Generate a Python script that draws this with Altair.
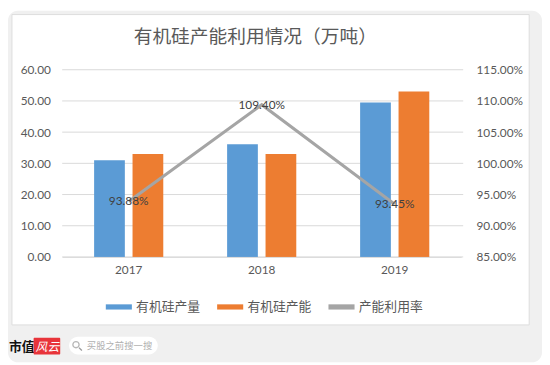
import altair as alt
import pandas as pd

years = ["2017", "2018", "2019"]
series_names = ["有机硅产量", "有机硅产能", "产能利用率"]
output = [30.98, 36.10, 49.53]
capacity = [33.0, 33.0, 53.0]
rate = [0.9388, 1.0940, 0.9345]
left_ticks = [0, 10, 20, 30, 40, 50, 60]
right_ticks = [0.85, 0.90, 0.95, 1.00, 1.05, 1.10, 1.15]
colors = ["#5B9BD5", "#ED7D31", "#A5A5A5"]
title_text = "有机硅产能利用情况（万吨）"

bars_df = pd.DataFrame({
    "year": years * 2,
    "series": [series_names[0]] * 3 + [series_names[1]] * 3,
    "value": output + capacity,
})
grid_df = pd.DataFrame({"value": left_ticks})
line_df = pd.DataFrame({"year": years, "series": [series_names[2]] * 3, "rate": rate})
one = pd.DataFrame({"k": [0]})

CJK = "Noto Sans CJK SC"
NUM = "Lato"

color = alt.Color(
    "series:N",
    scale=alt.Scale(domain=series_names, range=colors),
    legend=alt.Legend(
        title=None, orient="none", direction="horizontal", legendX=44, legendY=227,
        symbolType="M-1,-0.2H1V0.2H-1Z", symbolSize=700, symbolStrokeWidth=0,
        labelFont=CJK, labelFontSize=13, labelColor="#595959", labelOffset=4,
        columnPadding=16,
    ),
)

xenc = alt.X("year:N", title=None, sort=years,
             scale=alt.Scale(paddingInner=0.48, paddingOuter=0.24),
             axis=alt.Axis(labelAngle=0, ticks=False, domainColor="#d9d9d9", zindex=1,
                           labelFont=NUM, labelFontSize=12, labelColor="#595959",
                           labelPadding=8))

left_axis = alt.Axis(values=left_ticks, format=".2f", grid=False, zindex=1,
                     domain=False, ticks=False, labelPadding=12, labelFont=NUM,
                     labelFontSize=12, labelColor="#595959")
ly = alt.Y("value:Q", title=None, scale=alt.Scale(domain=[0, 60]), axis=left_axis)

grid = alt.Chart(grid_df).mark_rule(color="#d9d9d9", strokeWidth=1).encode(
    y=ly, x=alt.value(0), x2=alt.value(407))

bars = alt.Chart(bars_df).mark_bar().encode(
    x=xenc,
    xOffset=alt.XOffset("series:N", sort=series_names[:2],
                        scale=alt.Scale(paddingInner=0.2, paddingOuter=0)),
    y=ly,
    color=color,
)
bar_layer = alt.layer(grid, bars)

ry = alt.Y("rate:Q", title=None, scale=alt.Scale(domain=[0.85, 1.15]),
           axis=alt.Axis(orient="right", values=right_ticks, format=".2%", grid=False,
                         domain=False, ticks=False, labelPadding=15, labelFont=NUM, zindex=1,
                         labelFontSize=12, labelColor="#595959"))

line = alt.Chart(line_df).mark_line(strokeWidth=3).encode(
    x=alt.X("year:N", sort=years),
    y=ry,
    color=alt.Color("series:N", legend=None),
)
labels = alt.Chart(line_df).mark_text(font=NUM, fontSize=12, color="#404040",
                                      baseline="middle").encode(
    x=alt.X("year:N", sort=years),
    y=ry,
    text=alt.Text("rate:Q", format=".2%"),
)
line_layer = alt.layer(line, labels)

bg = alt.Chart(one).mark_rect(color="#f0f0f0", cornerRadius=10).encode(
    x=alt.value(-55), x2=alt.value(487), y=alt.value(-60), y2=alt.value(297))
card = alt.Chart(one).mark_rect(color="#ffffff", stroke="#dcdcdc", strokeWidth=1).encode(
    x=alt.value(-51), x2=alt.value(474), y=alt.value(-56), y2=alt.value(259))
title = alt.Chart(one).mark_text(text=title_text, font=CJK, fontSize=19, color="#595959",
                                 baseline="middle").encode(x=alt.value(196), y=alt.value(-33))

logo1 = alt.Chart(one).mark_text(text="市值", font=CJK, fontSize=13, fontWeight="bold",
                                 color="#111111").encode(x=alt.value(-41), y=alt.value(281))
redbox = alt.Chart(one).mark_rect(color="#e8343a", cornerRadius=1).encode(
    x=alt.value(-29), x2=alt.value(-2), y=alt.value(272), y2=alt.value(289))
logo2 = alt.Chart(one).mark_text(text="风云", font=CJK, fontSize=12, fontStyle="italic",
                                 color="#ffffff").encode(x=alt.value(-15), y=alt.value(281))
search = alt.Chart(one).mark_rect(color="#ffffff", cornerRadius=9).encode(
    x=alt.value(7), x2=alt.value(97), y=alt.value(271), y2=alt.value(289))
lens = alt.Chart(one).mark_point(shape="circle", size=40, filled=False, color="#999999",
                                 strokeWidth=1.3).encode(x=alt.value(14), y=alt.value(279))
handle = alt.Chart(one).mark_rule(color="#999999", strokeWidth=1.3).encode(
    x=alt.value(17), x2=alt.value(20), y=alt.value(282), y2=alt.value(285))
stext = alt.Chart(one).mark_text(text="买股之前搜一搜", font=CJK, fontSize=9.5, align="left",
                                 color="#b0b0b0").encode(x=alt.value(25), y=alt.value(280))

main = alt.layer(bar_layer, line_layer).resolve_scale(y="independent")

chart = alt.layer(bg, card, title, main, logo1, redbox, logo2, search, lens, handle, stext).properties(
    width=405, height=190,
    autosize=alt.AutoSizeParams(type="none"),
    padding={"left": 55, "top": 60, "right": 82, "bottom": 107},
).configure_view(stroke=None).configure(background="#ffffff")

chart.save("out.html", embed_options={"renderer": "svg", "actions": False})
